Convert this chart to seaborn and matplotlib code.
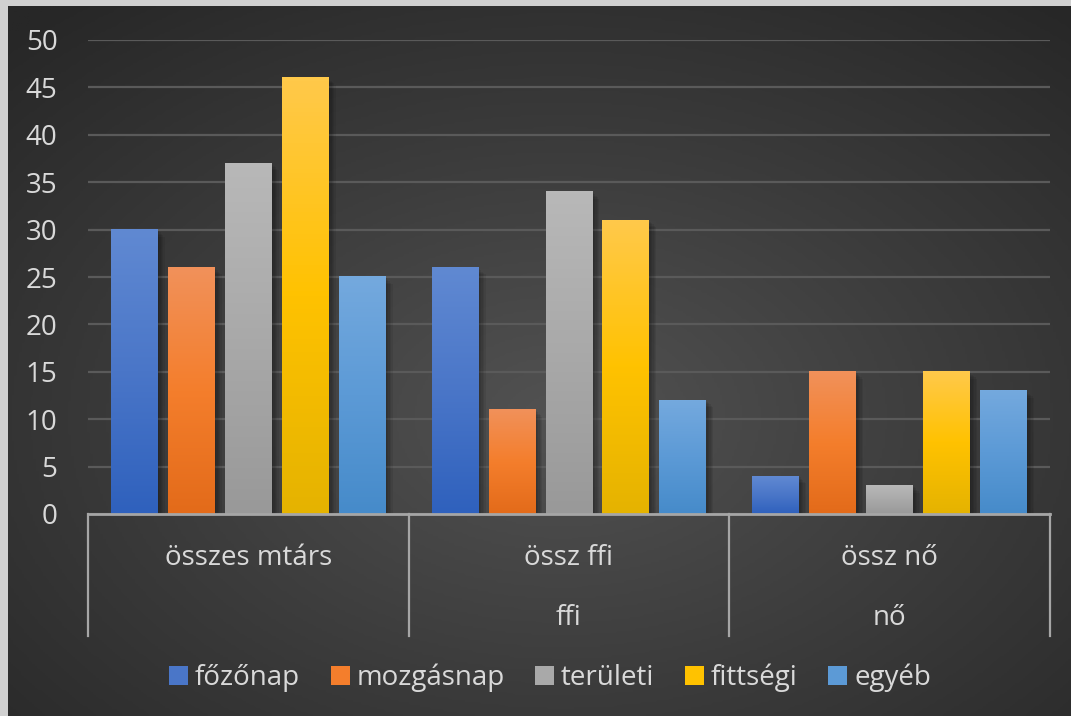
import numpy as np
import pandas as pd
import matplotlib
matplotlib.use("Agg")
import matplotlib.pyplot as plt
import matplotlib.patheffects as pe
from matplotlib.colors import LinearSegmentedColormap
from matplotlib.patches import Patch
import seaborn as sns

# ---- data ----
groups = ["összes mtárs", "össz ffi", "össz nő"]
sub_labels = ["", "ffi", "nő"]
series = ["főzőnap", "mozgásnap", "területi", "fittségi", "egyéb"]
fozonap = [30, 26, 4]
mozgasnap = [26, 11, 15]
teruleti = [37, 34, 3]
fittsegi = [46, 31, 15]
egyeb = [25, 12, 13]
yticks = [0, 5, 10, 15, 20, 25, 30, 35, 40, 45, 50]

values = [fozonap, mozgasnap, teruleti, fittsegi, egyeb]
df = pd.DataFrame({
    "group": [g for vals in values for g in groups],
    "series": [s for s, vals in zip(series, values) for _ in vals],
    "value": [v for vals in values for v in vals],
})

# gradient colours (top, middle, bottom)
grads = {
    "főzőnap": ["#6089d2", "#4a76c8", "#2f61bd"],
    "mozgásnap": ["#f1915a", "#f47e2c", "#e36b1a"],
    "területi": ["#b8b8b8", "#a9a9a9", "#999999"],
    "fittségi": ["#ffc94a", "#ffc200", "#e5b300"],
    "egyéb": ["#74a9de", "#5c9ad6", "#468bca"],
}
mid_colors = [grads[s][1] for s in series]
TXT = "#d9d9d9"
FONT = "Open Sans"
FS = 20

W, H = 1071, 716
fig = plt.figure(figsize=(W / 100, H / 100), dpi=100)
fig.patch.set_facecolor("#d0d0d0")

# background with radial gradient
bg = fig.add_axes([8 / W, 0, 1 - 8 / W, 1 - 6 / H])
bg.set_axis_off()
yy, xx = np.mgrid[0:1:300j, 0:1:400j]
r = np.sqrt(((xx - 0.52) / 0.75) ** 2 + ((yy - 0.42) / 0.75) ** 2)
r = np.clip(r, 0, 1)
bgcmap = LinearSegmentedColormap.from_list("bg", ["#525252", "#3c3c3c", "#272727"])
bg.imshow(r, cmap=bgcmap, aspect="auto", extent=[0, 1, 0, 1], origin="lower", vmin=0, vmax=1)
bg.set_xlim(0, 1)
bg.set_ylim(0, 1)

ax_l, ax_r = 88 / W, 1050 / W
ax_b, ax_t = 1 - 514 / H, 1 - 40 / H
ax = fig.add_axes([ax_l, ax_b, ax_r - ax_l, ax_t - ax_b])
ax.patch.set_alpha(0)

sns.barplot(data=df, x="group", y="value", hue="series", order=groups,
            hue_order=series, palette=mid_colors, width=0.888, gap=0.176,
            ax=ax, legend=False, saturation=1)

ax.set_ylim(0, 50)
ax.set_xlim(-0.5, 2.5)
ax.set_yticks(yticks)
ax.set_yticklabels([str(t) for t in yticks], fontsize=FS, color=TXT, family=FONT)
ax.tick_params(axis="y", length=0, pad=22)
ax.set_xticks([])
ax.set_xlabel("")
ax.set_ylabel("")
for s in ax.spines.values():
    s.set_visible(False)
ax.grid(axis="y", color="#5a5a5a", lw=1.6, zorder=0)
ax.set_axisbelow(True)

# gradient fill on bars, with soft shadow
shadow = [pe.SimplePatchShadow(offset=(o, -o), shadow_rgbFace="#000000", alpha=0.07)
          for o in (1, 2, 3, 4, 5)]
for i, cont in enumerate(ax.containers):
    cmap = LinearSegmentedColormap.from_list("g%d" % i, grads[series[i]][::-1])
    for p in cont.patches:
        x0, y0 = p.get_x(), p.get_y()
        w, h = p.get_width(), p.get_height()
        p.set_zorder(2)
        p.set_edgecolor("none")
        p.set_path_effects(shadow)
        grad = np.linspace(0, 1, 100).reshape(-1, 1)
        ax.imshow(grad, cmap=cmap, extent=[x0, x0 + w, y0, y0 + h], origin="lower",
                  aspect="auto", zorder=3)
ax.set_xlim(-0.5, 2.5)
ax.set_ylim(0, 50)

# category axis
ax.axhline(0, color="#a6a6a6", lw=2, zorder=5, clip_on=False)
trans = ax.get_xaxis_transform()
sep_bottom = -122 / 474
for xb in [-0.5, 0.5, 1.5, 2.5]:
    ax.plot([xb, xb], [0, sep_bottom], transform=trans, color="#a6a6a6", lw=1.6,
            clip_on=False, zorder=5)
for i, (g, s) in enumerate(zip(groups, sub_labels)):
    ax.text(i, -44 / 474, g, transform=trans, ha="center", va="center",
            fontsize=FS, color=TXT, family=FONT)
    if s:
        ax.text(i, -104 / 474, s, transform=trans, ha="center", va="center",
                fontsize=FS, color=TXT, family=FONT)

handles = [Patch(facecolor=c, edgecolor="none") for c in mid_colors]
leg = fig.legend(handles, series, loc="center", bbox_to_anchor=(550 / W, 1 - 678 / H),
                 ncol=5, frameon=False, handlelength=0.68, handleheight=0.68,
                 handletextpad=0.25, columnspacing=1.1,
                 prop={"family": FONT, "size": FS})
for t in leg.get_texts():
    t.set_color(TXT)

fig.savefig("out.png", dpi=100, facecolor=fig.get_facecolor())
